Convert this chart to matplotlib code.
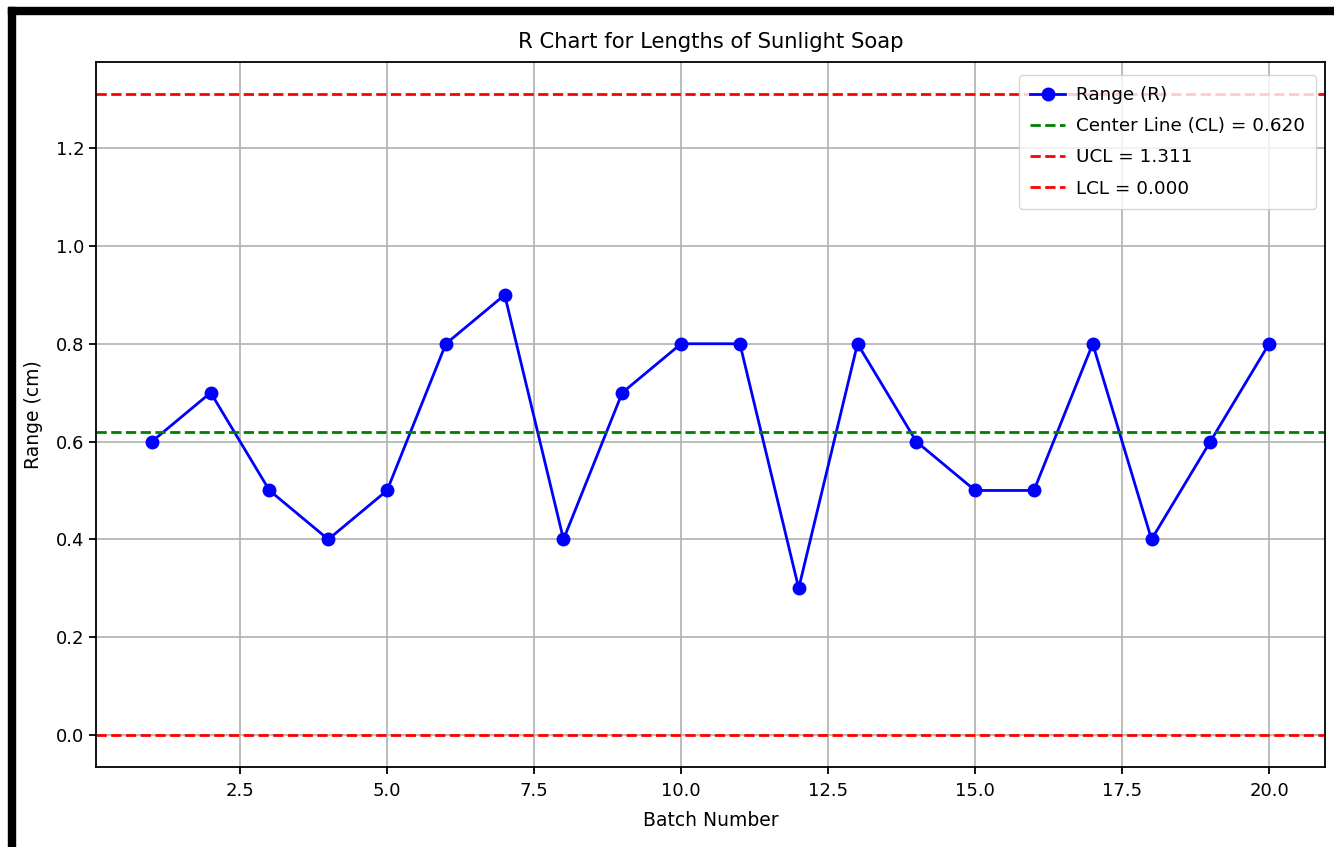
import matplotlib
matplotlib.use("Agg")
import matplotlib.pyplot as plt
from matplotlib.patches import Rectangle

# range of each batch (cm)
batch = list(range(1, 21))
ranges = [0.6, 0.7, 0.5, 0.4, 0.5, 0.8, 0.9, 0.4, 0.7, 0.8,
          0.8, 0.3, 0.8, 0.6, 0.5, 0.5, 0.8, 0.4, 0.6, 0.8]

# control chart constants for n = 5
D3 = 0.0
D4 = 2.114

cl = sum(ranges) / len(ranges)
ucl = D4 * cl
lcl = D3 * cl

W, H = 1334, 847
fig = plt.figure(figsize=(W / 100, H / 100), dpi=100)
ax = fig.add_axes([96 / W, 1 - 767 / H, (1325 - 96) / W, (767 - 62) / H])

ax.plot(batch, ranges, marker="o", color="blue", lw=2, ms=9, label="Range (R)")
ax.axhline(cl, color="green", ls="--", lw=2, label=f"Center Line (CL) = {cl:.3f}")
ax.axhline(ucl, color="red", ls="--", lw=2, label=f"UCL = {ucl:.3f}")
ax.axhline(lcl, color="red", ls="--", lw=2, label=f"LCL = {lcl:.3f}")

ax.set_title("R Chart for Lengths of Sunlight Soap", fontsize=15.2, pad=10)
ax.set_xlabel("Batch Number", fontsize=13.5, labelpad=8)
ax.set_ylabel("Range (cm)", fontsize=13.5, labelpad=9)
ax.tick_params(labelsize=13, width=1.3, length=5)
ax.tick_params(axis="x", pad=6)
for s in ax.spines.values():
    s.set_linewidth(1.3)
ax.grid(True, lw=1.2)
ax.legend(loc="upper right", bbox_to_anchor=(1 - 9 / 1229, 1 - 13 / 705),
          borderaxespad=0, fontsize=13.2, handlelength=1.9, handletextpad=0.6,
          labelspacing=0.72, borderpad=0.6)

# black screenshot frame on top and left
fig.patches.append(Rectangle((8 / W, 0), 7 / W, 1 - 7 / H, transform=fig.transFigure,
                             color="black", zorder=10))
fig.patches.append(Rectangle((8 / W, 1 - 14 / H), 1, 7 / H, transform=fig.transFigure,
                             color="black", zorder=10))

fig.savefig("out.png", dpi=100)
